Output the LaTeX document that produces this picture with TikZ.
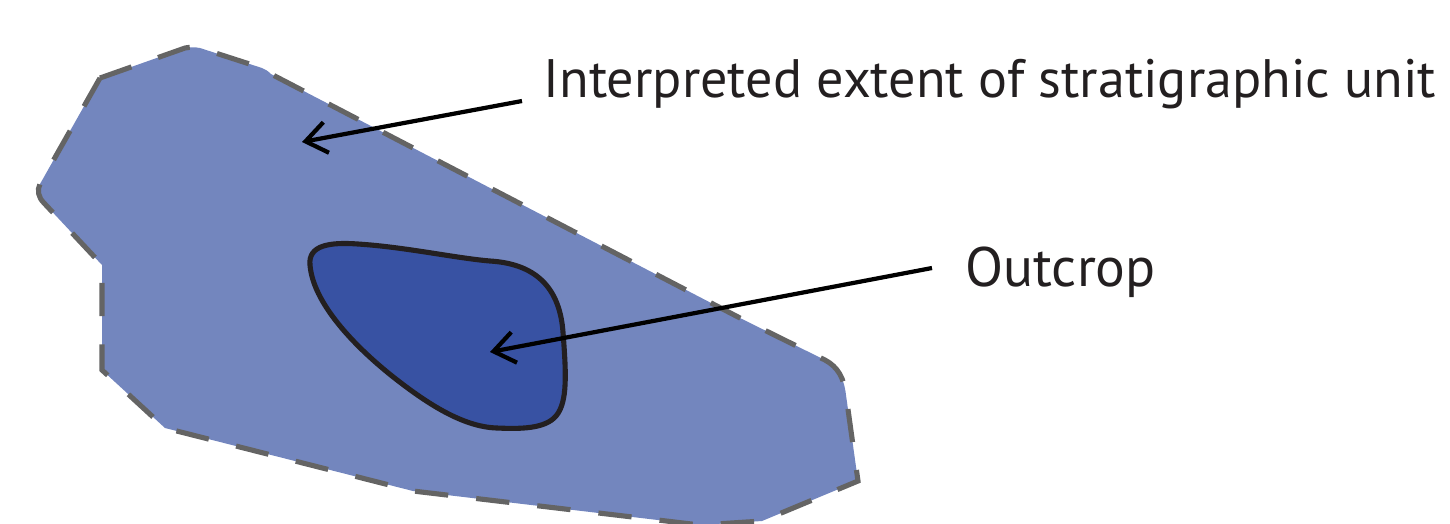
\documentclass[tikz,border=0pt]{standalone}
\usepackage{fontspec}
\setmainfont{PT Sans}
\usetikzlibrary{arrows.meta}
\definecolor{unitfill}{RGB}{115,134,190}
\definecolor{outfill}{RGB}{56,82,163}
\definecolor{dashgray}{RGB}{100,100,100}
\definecolor{outline}{RGB}{35,31,32}
\tikzset{
  unitshape/.style={fill=unitfill, draw=dashgray, line width=1.45pt, dash pattern=on 9.5pt off 8pt, line join=miter},
  outshape/.style={fill=outfill, draw=outline, line width=1.45pt},
  pointer/.style={draw=black, line width=1.2pt, -{Straight Barb[length=0.21cm, width=0.31cm, line width=1.2pt]}},
  label/.style={anchor=base west, inner sep=0pt, text=outline}
}
\begin{document}
\begin{tikzpicture}[x=0.01cm,y=-0.01cm]
\useasboundingbox (0,0) rectangle (1450,523);
\begin{scope}
\clip (0,0) rectangle (1450,523);
\path[unitshape] (100,78) -- (185,48) .. controls (190,47) and (195,47) .. (200,48) -- (262,68) .. controls (265,69) and (268,71) .. (271,74) -- (740,318) -- (825,360) .. controls (838,367) and (844,378) .. (846,395) -- (858,481) -- (762,521) -- (700,525) -- (413,491) -- (165,428) -- (102,370) -- (102,265) -- (44,203) .. controls (38,197) and (37,190) .. (40,184) -- cycle;
\end{scope}
\path[outshape] (310,265)
  .. controls (308,245) and (330,242) .. (358,244)
  .. controls (405,247) and (455,258) .. (490,261)
  .. controls (540,264) and (560,292) .. (563,332)
  .. controls (566,372) and (568,402) .. (556,416)
  .. controls (545,429) and (520,429) .. (497,428)
  .. controls (462,427) and (425,402) .. (392,376)
  .. controls (352,344) and (313,302) .. (310,265) -- cycle;
\node[label] (t1) at (543,97) {\resizebox{8.92cm}{!}{Interpreted extent of stratigraphic unit}};
\node[label] (t2) at (965,286) {\resizebox{1.90cm}{!}{Outcrop}};
\coordinate (s1) at (522,101);
\coordinate (e1) at (302,142);
\coordinate (s2) at (932,268);
\coordinate (e2) at (490,352);
\draw[pointer] (s1) -- (e1);
\draw[pointer] (s2) -- (e2);
\end{tikzpicture}
\end{document}
